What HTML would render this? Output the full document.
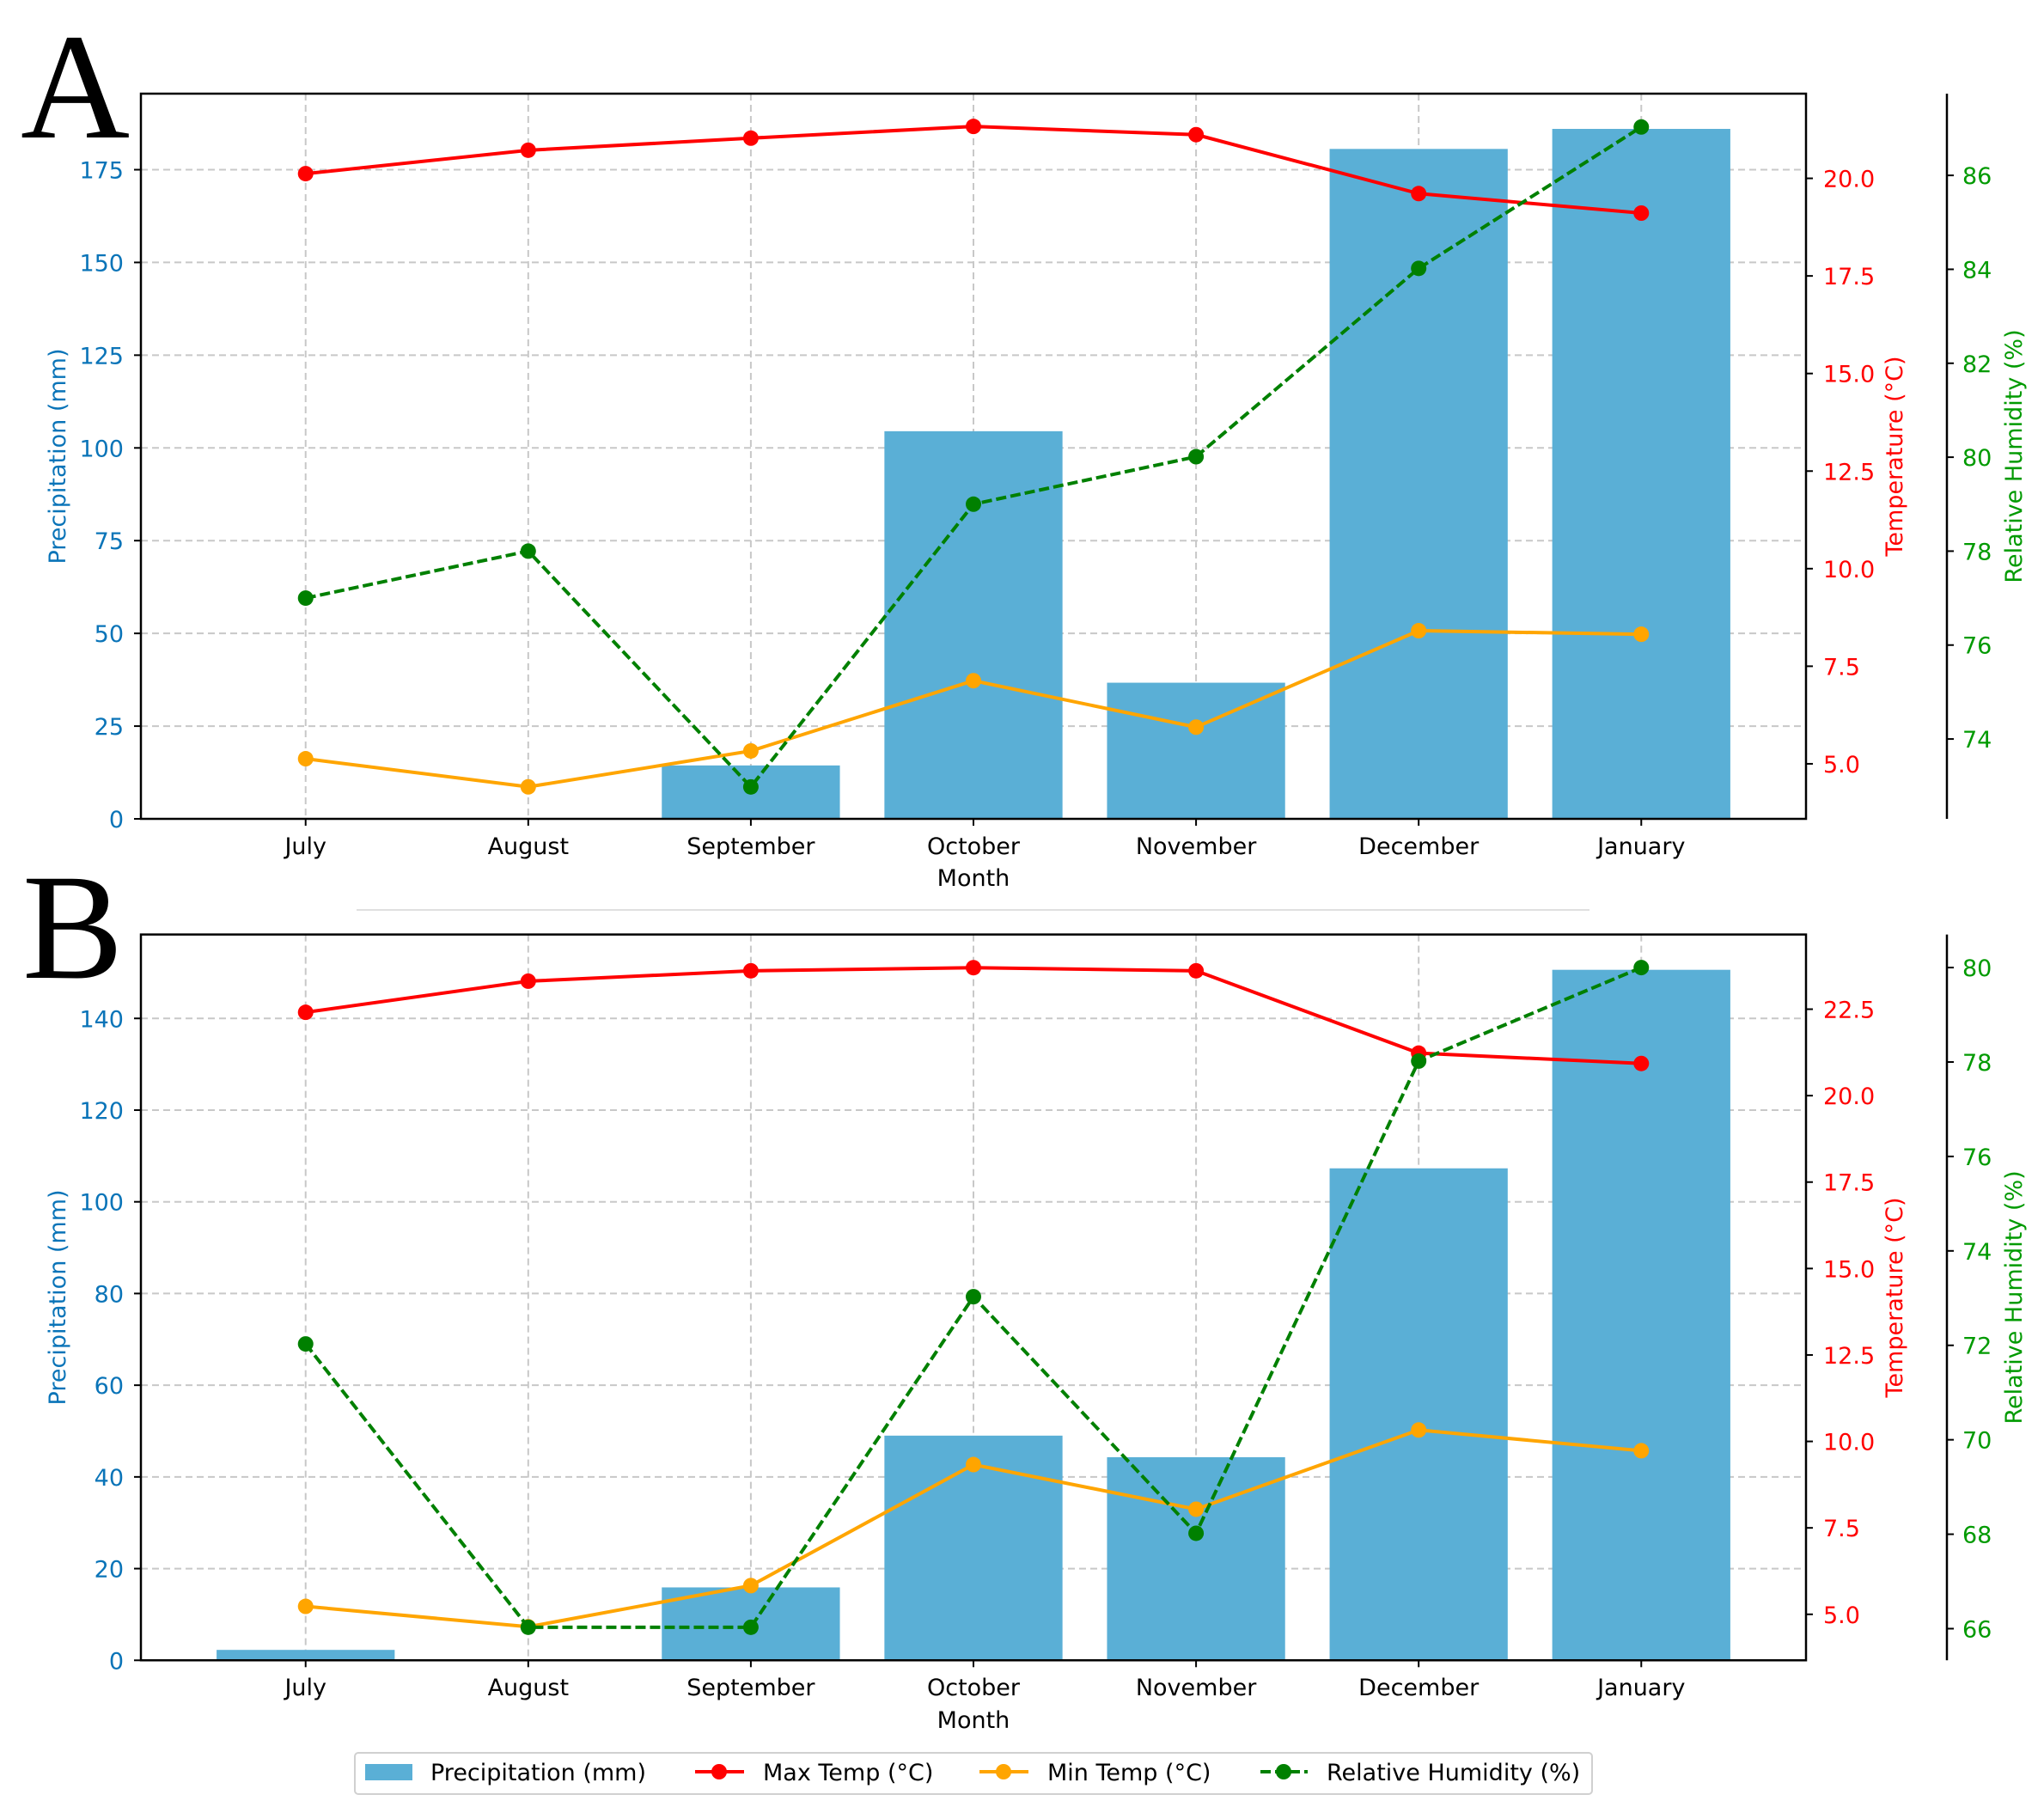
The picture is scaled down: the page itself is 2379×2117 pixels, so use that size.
<!DOCTYPE html>
<html><head><meta charset="utf-8"><style>
html,body{margin:0;padding:0;background:#fff;}
svg{display:block;}
text{font-family:"DejaVu Sans","Liberation Sans",sans-serif;}
</style></head><body>
<svg id="chart" width="2379" height="2117" viewBox="0 0 2379 2117" xmlns="http://www.w3.org/2000/svg">
<text x="24" y="160" style="font-family:'Liberation Serif',serif;font-size:176px;">A</text>
<text x="26" y="1138" style="font-family:'Liberation Serif',serif;font-size:176px;">B</text>
<line x1="415" y1="1059" x2="1850" y2="1059" stroke="#e0e0e0" stroke-width="2"/>
<g id="panels"></g>
<g>
<rect x="413" y="2040" width="1440" height="48" rx="4" fill="#fff" stroke="#d0d0d0" stroke-width="2"/>
<g><rect x="425" y="2053" width="55" height="19" fill="#5aafd6"/><text x="501" y="2072" font-size="27">Precipitation (mm)</text></g>
<g><line x1="809" y1="2062" x2="866" y2="2062" stroke="#ff0000" stroke-width="4"/><circle cx="837" cy="2062" r="9" fill="#ff0000"/><text x="888" y="2072" font-size="27">Max Temp (°C)</text></g>
<g><line x1="1140" y1="2062" x2="1197" y2="2062" stroke="#ffa500" stroke-width="4"/><circle cx="1168" cy="2062" r="9" fill="#ffa500"/><text x="1219" y="2072" font-size="27">Min Temp (°C)</text></g>
<g><line x1="1467" y1="2062" x2="1522" y2="2062" stroke="#008000" stroke-width="4" stroke-dasharray="12,5"/><circle cx="1494" cy="2062" r="9" fill="#008000"/><text x="1544" y="2072" font-size="27">Relative Humidity (%)</text></g>
</g>
</svg>
<script>
const months = ["July","August","September","October","November","December","January"];
const precipA = [0, 0, 14.4, 104.5, 36.7, 180.6, 186.0];
const maxTempA = [20.12, 20.72, 21.03, 21.33, 21.12, 19.61, 19.11];
const minTempA = [5.13, 4.41, 5.33, 7.13, 5.94, 8.41, 8.32];
const humidityA = [77.0, 78.0, 72.98, 79.0, 80.01, 84.02, 87.03];
const precipTicksA = [0, 25, 50, 75, 100, 125, 150, 175];
const tempTicksA = ["5.0", "7.5", "10.0", "12.5", "15.0", "17.5", "20.0"];
const humTicksA = [74, 76, 78, 80, 82, 84, 86];

const precipB = [2.27, 0, 15.9, 49.0, 44.3, 107.3, 150.6];
const maxTempB = [22.41, 23.31, 23.61, 23.70, 23.61, 21.23, 20.93];
const minTempB = [5.23, 4.64, 5.83, 9.33, 8.04, 10.33, 9.73];
const humidityB = [72.03, 66.03, 66.03, 73.03, 68.02, 78.02, 80.0];
const precipTicksB = [0, 20, 40, 60, 80, 100, 120, 140];
const tempTicksB = ["5.0", "7.5", "10.0", "12.5", "15.0", "17.5", "20.0", "22.5"];
const humTicksB = [66, 68, 70, 72, 74, 76, 78, 80];

const NS = "http://www.w3.org/2000/svg";
const root = document.getElementById("panels");
function mk(tag, attrs, parent) {
  const e = document.createElementNS(NS, tag);
  for (const k in attrs) e.setAttribute(k, attrs[k]);
  (parent || root).appendChild(e);
  return e;
}
const L = 164, R = 2102, XMIN = -0.74, XMAX = 6.74;
const BLUE = "#0a74b8", RED = "#ff0000", GRN = "#009a00";
const FS = 27;

function panel(id, top, bottom, pr, tr, hr, precip, maxT, minT, hum, pT, tT, hT, tickY, monthY) {
  const g = mk("g", {});
  
  
  const xs = i => L + (i - XMIN) / (XMAX - XMIN) * (R - L);
  const yP = v => bottom - (v - pr[0]) / (pr[1] - pr[0]) * (bottom - top);
  const yT = v => bottom - (v - tr[0]) / (tr[1] - tr[0]) * (bottom - top);
  const yH = v => bottom - (v - hr[0]) / (hr[1] - hr[0]) * (bottom - top);
  pT.forEach(v => {
    const gl = mk("line", {x1: L, x2: R, y1: yP(v), y2: yP(v), stroke: "#c8c8c8", "stroke-width": 2, "stroke-dasharray": "8,5"}, g);
    
    
  });
  months.forEach((m, i) => {
    const gl = mk("line", {x1: xs(i), x2: xs(i), y1: top, y2: bottom, stroke: "#c8c8c8", "stroke-width": 2, "stroke-dasharray": "8,5"}, g);
    
    
  });
  precip.forEach((v, i) => {
    if (v <= 0) return;
    const x0 = xs(i - 0.4), x1 = xs(i + 0.4);
    const b = mk("rect", {x: x0, y: yP(v), width: x1 - x0, height: bottom - yP(v), fill: "#5aafd6"}, g);
    
    
  });
  function series(vals, yf, color, dash, name) {
    const pts = vals.map((v, i) => xs(i) + "," + yf(v)).join(" ");
    const pl = mk("polyline", {points: pts, fill: "none", stroke: color, "stroke-width": 4, "stroke-dasharray": dash || "none"}, g);
    
    
    vals.forEach((v, i) => {
      const c = mk("circle", {cx: xs(i), cy: yf(v), r: 9, fill: color}, g);
      
      
    });
  }
  series(maxT, yT, RED, null, "max-temp");
  series(minT, yT, "#ffa500", null, "min-temp");
  series(hum, yH, "#008000", "12,5", "humidity");
  const fr = mk("rect", {x: L, y: top, width: R - L, height: bottom - top, fill: "none", stroke: "#000", "stroke-width": 2.5}, g);
  
  
  const sp = mk("line", {x1: 2266, x2: 2266, y1: top, y2: bottom, stroke: "#000", "stroke-width": 2.5}, g);
  
  
  pT.forEach(v => {
    const y = yP(v);
    mk("line", {x1: L - 8, x2: L, y1: y, y2: y, stroke: "#000", "stroke-width": 2}, g);
    const t = mk("text", {x: 144, y: y + 10, "text-anchor": "end", "font-size": FS, fill: BLUE}, g);
    t.textContent = v;
    
    
  });
  tT.forEach(s => {
    const y = yT(parseFloat(s));
    mk("line", {x1: R, x2: R + 8, y1: y, y2: y, stroke: "#000", "stroke-width": 2}, g);
    const t = mk("text", {x: 2122, y: y + 10, "font-size": FS, fill: RED}, g);
    t.textContent = s;
    
    
  });
  hT.forEach(v => {
    const y = yH(v);
    mk("line", {x1: 2266, x2: 2274, y1: y, y2: y, stroke: "#000", "stroke-width": 2}, g);
    const t = mk("text", {x: 2284, y: y + 10, "font-size": FS, fill: GRN}, g);
    t.textContent = v;
    
    
  });
  months.forEach((m, i) => {
    mk("line", {x1: xs(i), x2: xs(i), y1: bottom, y2: bottom + 8, stroke: "#000", "stroke-width": 2}, g);
    const t = mk("text", {x: xs(i), y: tickY + 10, "text-anchor": "middle", "font-size": FS, fill: "#000"}, g);
    t.textContent = m;
    
    
  });
  const mid = (top + bottom) / 2;
  const xl = mk("text", {x: (L + R) / 2, y: monthY + 10, "text-anchor": "middle", "font-size": FS}, g);
  xl.textContent = "Month";
  
  
  const yl = mk("text", {x: 0, y: 0, "text-anchor": "middle", "font-size": FS, fill: BLUE, transform: "translate(76," + mid + ") rotate(-90)"}, g);
  yl.textContent = "Precipitation (mm)";
  
  
  const tl = mk("text", {x: 0, y: 0, "text-anchor": "middle", "font-size": FS, fill: RED, transform: "translate(2214," + mid + ") rotate(-90)"}, g);
  tl.textContent = "Temperature (°C)";
  
  
  const hl = mk("text", {x: 0, y: 0, "text-anchor": "middle", "font-size": FS, fill: GRN, transform: "translate(2353," + mid + ") rotate(-90)"}, g);
  hl.textContent = "Relative Humidity (%)";
  
  
}
panel("a", 109, 953, [0, 195.5], [3.59, 22.17], [72.30, 87.74], precipA, maxTempA, minTempA, humidityA, precipTicksA, tempTicksA, humTicksA, 984, 1021);
panel("b", 1087.6, 1932.3, [0, 158.3], [3.67, 24.66], [65.33, 80.70], precipB, maxTempB, minTempB, humidityB, precipTicksB, tempTicksB, humTicksB, 1963, 2001);
</script>
</body></html>
